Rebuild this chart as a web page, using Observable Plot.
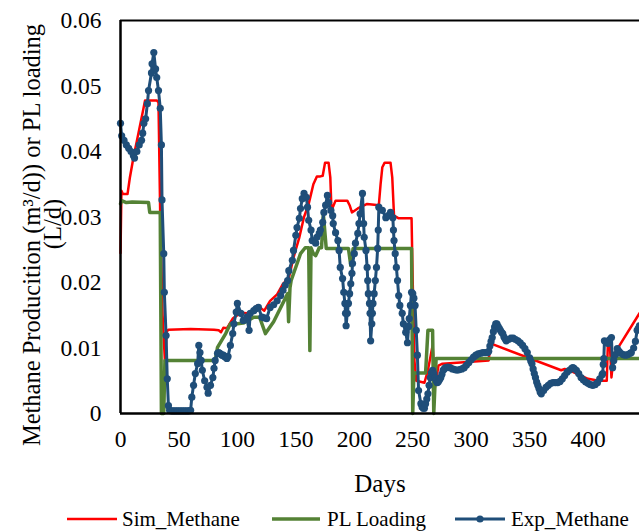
<!DOCTYPE html>
<html><head><meta charset="utf-8">
<script src="https://cdn.jsdelivr.net/npm/d3@7"></script>
<script src="https://cdn.jsdelivr.net/npm/@observablehq/plot@0.6"></script>
<style>
body{margin:0;background:#fff;font-family:"Liberation Serif","Times New Roman",serif;}
#wrap{position:relative;width:639px;height:531px;overflow:hidden;background:#fff;}
#legend{position:absolute;left:0;top:500px;width:639px;height:31px;}
</style></head><body>
<div id="wrap"><div id="chart"></div><div id="legend"></div></div>
<script>
// x tick values / labels
const xTicks = [0, 50, 100, 150, 200, 250, 300, 350, 400];
const yTicks = [0, 0.01, 0.02, 0.03, 0.04, 0.05, 0.06];
const yTickLabels = ["0", "0.01", "0.02", "0.03", "0.04", "0.05", "0.06"];
const seriesNames = ["Sim_Methane", "PL Loading", "Exp_Methane"];

// Sim_Methane (red)
const simDays = [0,0.8,2,6,8,11,15,19,21,31,32.5,34,36,38,39.5,41,60,80,84,86,88,91,96,103,108,113,117,123,128,134,139,144,148,153,157,161,165,168,171,173,175,178,179.5,180.5,184,194,196,198,203,211,221,222.5,224,226,231,232.5,234,238,249,250,251.5,253,260,263,267,269,272,275.5,300,315,316.5,377,380,384,400,409,416,417,418.5,420,422,444];
const simVals = [0.0245,0.034,0.0335,0.0335,0.036,0.039,0.0425,0.046,0.0478,0.0478,0.0475,0.03,0.015,0.008,0.0125,0.0128,0.0129,0.0128,0.0127,0.0124,0.0131,0.013,0.0145,0.0154,0.0153,0.0155,0.0165,0.0157,0.0172,0.0182,0.0198,0.0207,0.0238,0.0269,0.03,0.032,0.035,0.0362,0.0362,0.0363,0.0383,0.0383,0.036,0.031,0.0325,0.0325,0.0318,0.0307,0.0313,0.032,0.0318,0.035,0.0376,0.0383,0.0383,0.036,0.0302,0.0298,0.0298,0.02,0.008,0.005,0.0047,0.0066,0.0104,0.004,0.0073,0.0076,0.0079,0.0081,0.0107,0.0066,0.0068,0.0066,0.0053,0.005,0.005,0.0111,0.0111,0.0055,0.009,0.0153];

// PL Loading (green)
const plDays = [0,1,5,10,24,25,34,35,37,38,81,83,90,94,100,105,114,119,124,131,143,143.8,145,146,154,158,161,162,163,165,167,170,172,173.5,176,195,197,199,249,250,251,261,263,267,268,270,444];
const plVals = [0.032,0.0325,0.0322,0.0323,0.0322,0.0307,0.0307,0,0,0.0081,0.0081,0.0101,0.0122,0.0137,0.0137,0.0138,0.0147,0.0147,0.0122,0.014,0.0183,0.014,0.0192,0.0203,0.0244,0.0253,0.0253,0.0096,0.0253,0.0244,0.0241,0.0253,0.0253,0.0305,0.0252,0.0252,0.0226,0.0252,0.0252,0,0.0062,0.0062,0.0127,0.0127,0,0.0084,0.0084];

// Exp_Methane (blue, markers)
const expDays = [0,1,3,5,7,9,11,12,14,16,18,19,20,21.5,23,24,26.5,27,28.5,30,31,32.5,34,35,35.5,37,37.5,39,40,41,42,43.5,45,46.5,48,49.5,51,52.5,54,55.5,57,58.5,60,61,62.5,64,66,67,68,69,70,72,74,75,77,79,80,81,83,84,85,86,87,88,89,90,91,92,94,96,97,99,100,103,105,108,110,111,114,116,118,121,123,125,128,131,134,137,139,141,143,144,147,148,150,151,153,154,155.5,157,159,160,161,163,164,167,168,170,171,173,174,175.5,177,178,180,181.5,182,184,186,187,188,190,191,192,192.5,193,194,195,196,197,198,198.5,200,201,203,204,205,207,208,208.5,210,211,211.5,212,213,213.5,214,215,215.5,216,217,218,219,220,220.5,221,224,227,229,231,233,233.5,234,235,236,237,238,239,241,242,244,245.5,246.5,247,248,249,250,251,252,253,254,255,257,258,259,260,261,262,263,264,265,266,267,268,269,270,271,272,273,274,275,276,277,278,280,282,284,286,288,290,292,294,296,298,300,302,304,306,308,310,312,314,315,316,317,318,319,320,321,322,323,324,325,326,327,328,329,330,332,334,336,338,340,342,344,346,348,350,351,352,353,354,355,356,357,358,359,360,362,364,366,368,370,372,374,376,378,380,382,384,386,387,388,390,392,394,396,398,400,402,404,406,408,410,412,412.5,413,413.5,414,415.5,417,418.5,420,421,422,423.5,425,426.5,428,430,432,434,436,437,439,440.5,442,443,444];
const expVals = [0.0443,0.0424,0.0417,0.041,0.0405,0.04,0.0394,0.039,0.04,0.041,0.0417,0.0428,0.0443,0.045,0.0473,0.0493,0.052,0.0534,0.0551,0.0526,0.0513,0.0493,0.0466,0.041,0.0326,0.0244,0.0185,0.0119,0.0053,0.0012,0.0005,0.0004,0.0004,0.0004,0.0004,0.0004,0.0004,0.0004,0.0004,0.0004,0.0004,0.0004,0.0005,0.0025,0.0043,0.0061,0.0076,0.0104,0.0093,0.0081,0.0066,0.005,0.004,0.0031,0.0043,0.0055,0.0069,0.0081,0.0092,0.0093,0.0092,0.009,0.0089,0.0089,0.0087,0.0086,0.0084,0.0087,0.0104,0.0122,0.0137,0.0155,0.0168,0.0153,0.0142,0.0147,0.0127,0.0153,0.0157,0.016,0.0162,0.0147,0.0146,0.0145,0.0162,0.0166,0.0172,0.018,0.0188,0.0196,0.0203,0.0218,0.0234,0.0249,0.0272,0.0284,0.0298,0.0313,0.0328,0.0336,0.033,0.0315,0.0295,0.028,0.0264,0.026,0.0269,0.0275,0.028,0.0292,0.0307,0.0318,0.0333,0.0322,0.031,0.0302,0.029,0.0276,0.0264,0.0249,0.0223,0.0206,0.0185,0.0168,0.0153,0.0134,0.0153,0.0168,0.0183,0.0198,0.0214,0.0229,0.0244,0.026,0.0275,0.029,0.0305,0.0336,0.029,0.0269,0.0249,0.0223,0.0203,0.0183,0.0168,0.0153,0.0111,0.0137,0.0153,0.0168,0.0183,0.0203,0.0223,0.0252,0.028,0.0315,0.031,0.0299,0.0302,0.0307,0.0299,0.028,0.0264,0.0244,0.0223,0.0203,0.018,0.0165,0.0153,0.0137,0.0124,0.0108,0.0133,0.0145,0.0165,0.0185,0.0183,0.0176,0.0165,0.0127,0.0089,0.0035,0.0015,0.001,0.0008,0.0008,0.0015,0.0022,0.003,0.0043,0.0055,0.0062,0.0066,0.0061,0.0055,0.005,0.0047,0.0049,0.0052,0.0055,0.006,0.0066,0.0068,0.007,0.0071,0.007,0.0068,0.0067,0.0066,0.0067,0.0068,0.007,0.0074,0.0078,0.0082,0.0086,0.0089,0.0091,0.0092,0.0093,0.0093,0.0093,0.0095,0.0103,0.011,0.0116,0.0125,0.0132,0.0137,0.0137,0.0133,0.013,0.0127,0.0124,0.0122,0.0117,0.0114,0.0111,0.0113,0.0115,0.0115,0.0113,0.0111,0.0108,0.0104,0.0099,0.0093,0.0085,0.008,0.0076,0.0068,0.0061,0.0055,0.0048,0.0043,0.0038,0.0033,0.003,0.0035,0.004,0.0043,0.0046,0.0047,0.0047,0.0047,0.0049,0.0053,0.0058,0.0063,0.0066,0.0069,0.007,0.0069,0.0066,0.0061,0.0055,0.0051,0.0048,0.0046,0.0044,0.0043,0.0044,0.0047,0.0053,0.0059,0.0061,0.0075,0.0084,0.0111,0.0109,0.0107,0.0113,0.0116,0.007,0.0081,0.009,0.0099,0.0095,0.0092,0.009,0.0089,0.009,0.0092,0.0093,0.01,0.011,0.0127,0.013,0.0134];

const colors = ["#FF0000", "#548235", "#1F4E79"];
const font = "'Liberation Serif','Times New Roman',serif";

const sim = simDays.map((d, i) => ({day: d, value: simVals[i]}));
const pl = plDays.map((d, i) => ({day: d, value: plVals[i]}));
const exp = expDays.map((d, i) => ({day: d, value: expVals[i]}));

const chart = Plot.plot({
  width: 639, height: 500,
  marginLeft: 120, marginRight: 0, marginTop: 20, marginBottom: 87,
  style: {fontFamily: font, fontSize: "23.5px", color: "#000", background: "#fff", overflow: "visible"},
  x: {domain: [0, 444], ticks: xTicks, tickSize: 0, tickPadding: 17, label: null},
  y: {domain: [0, 0.06], ticks: yTicks, tickFormat: (d) => yTickLabels[yTicks.indexOf(d)] ?? d, tickSize: 0, tickPadding: 19, label: null},
  marks: [
    Plot.line(sim, {x: "day", y: "value", stroke: colors[0], strokeWidth: 2.5}),
    Plot.line(pl, {x: "day", y: "value", stroke: colors[1], strokeWidth: 3.5}),
    Plot.line(exp, {x: "day", y: "value", stroke: colors[2], strokeWidth: 3}),
    Plot.dot(exp, {x: "day", y: "value", fill: colors[2], r: 3.6}),
    Plot.ruleX([0], {stroke: "#000", strokeWidth: 2.5}),
    Plot.ruleY([0], {stroke: "#000", strokeWidth: 2.5}),
    Plot.ruleY([0.06], {stroke: "#000", strokeWidth: 2}),
    Plot.text(["Methane Producition (m³/d)) or PL loading"], {frameAnchor: "left", textAnchor: "middle", rotate: -90, dx: -88, dy: 18, fontSize: 24.5, fill: "#000"}),
    Plot.text(["(L/d)"], {frameAnchor: "left", textAnchor: "middle", rotate: -90, dx: -67, dy: 7, fontSize: 24.5, fill: "#000"}),
    Plot.text(["Days"], {frameAnchor: "bottom", dy: 78, fontSize: 25, fill: "#000"})
  ]
});
document.getElementById("chart").appendChild(chart);

// legend
const lg = d3.select("#legend").append("svg").attr("width", 639).attr("height", 31);
const items = [
  {x1: 67, x2: 117, tx: 122, w: 2.5, dot: false},
  {x1: 272, x2: 320, tx: 327, w: 3.5, dot: false},
  {x1: 455, x2: 505, tx: 511, w: 3, dot: true}
];
items.forEach((it, i) => {
  lg.append("line").attr("x1", it.x1).attr("x2", it.x2).attr("y1", 19).attr("y2", 19)
    .attr("stroke", colors[i]).attr("stroke-width", it.w);
  if (it.dot) lg.append("circle").attr("cx", (it.x1 + it.x2) / 2).attr("cy", 19).attr("r", 3.6).attr("fill", colors[i]);
  lg.append("text").attr("x", it.tx).attr("y", 26).attr("font-family", font).attr("font-size", 21)
    .attr("fill", "#000").text(seriesNames[i]);
});
</script>
</body></html>
